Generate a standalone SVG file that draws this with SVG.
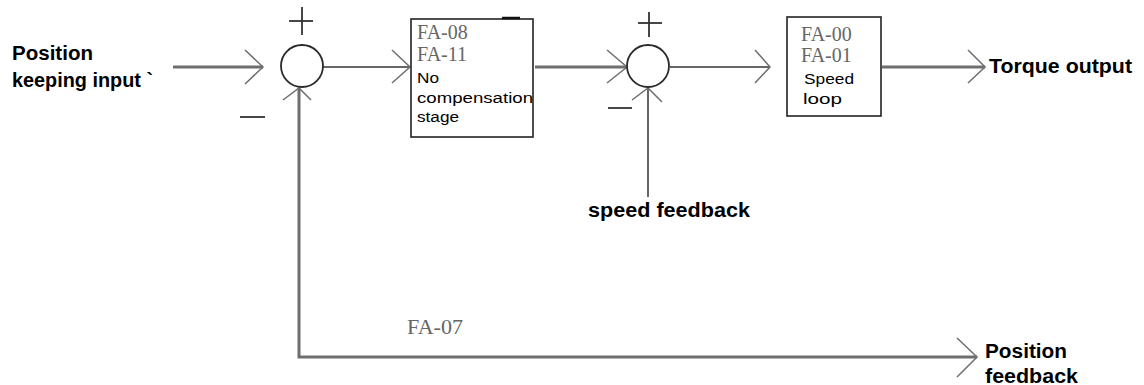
<svg xmlns="http://www.w3.org/2000/svg" width="1144" height="385" viewBox="0 0 1144 385">
<style>
.bg{fill:#ffffff}
.wire{stroke:#6e6e6e;stroke-width:3;fill:none}
.thin{stroke:#333333;stroke-width:1.5;fill:none}
.head{stroke:#6e6e6e;stroke-width:1.5;fill:none}
.sum{stroke:#2a2a2a;stroke-width:1.8;fill:#ffffff}
.box{stroke:#222222;stroke-width:1.6;fill:#ffffff}
.sign{stroke:#333333;stroke-width:1.8;fill:none}
.lbl{font-family:"Liberation Sans",Arial,sans-serif;font-weight:bold;font-size:20px;fill:#000}
.txt{font-family:"Liberation Sans",Arial,sans-serif;font-size:15.5px;fill:#000}
.par{font-family:"Liberation Serif","Times New Roman",serif;font-size:20px;fill:#666}
</style>
<rect class="bg" x="0" y="0" width="1144" height="385"/>
<g id="connectors">
  <line class="wire" x1="173" y1="67" x2="263" y2="67"/>
  <polyline class="head" points="245,50 263,67 245,84"/>
  <line class="thin" x1="323" y1="67" x2="410" y2="67"/>
  <polyline class="head" points="392,50 410,67 392,83"/>
  <line class="wire" x1="535" y1="67" x2="627" y2="67"/>
  <polyline class="head" points="607,50 627,67 607,83"/>
  <line class="thin" x1="648" y1="88" x2="648" y2="197"/>
  <polyline class="head" points="632,100 648,88 662,102"/>
  <line class="thin" x1="670" y1="67" x2="770" y2="67"/>
  <polyline class="head" points="755,50 770,67 755,83"/>
  <line class="wire" x1="882" y1="67" x2="985" y2="67"/>
  <polyline class="head" points="968,50 985,67 968,83"/>
  <polyline class="wire" points="299,88 299,357 977,357"/>
  <polyline class="head" points="283,100 299,88 311,100"/>
  <polyline class="head" points="957,338 977,357 957,377"/>
</g>
<g id="input-label">
  <text class="lbl" x="12" y="60" textLength="81" lengthAdjust="spacingAndGlyphs">Position</text>
  <text class="lbl" x="12" y="87" textLength="141" lengthAdjust="spacingAndGlyphs">keeping input `</text>
</g>
<g id="sum1">
  <circle class="sum" cx="302" cy="66" r="21"/>
  <line class="sign" x1="289" y1="21" x2="313" y2="21"/>
  <line class="sign" x1="302" y1="7" x2="302" y2="35"/>
  <line class="sign" x1="240" y1="117" x2="265" y2="117"/>
</g>
<g id="compensation-box">
  <rect class="box" x="411" y="19" width="122" height="118"/>
  <line x1="502" y1="18" x2="520" y2="18" stroke="#111" stroke-width="2.5"/>
  <text class="par" x="417" y="39">FA-08</text>
  <text class="par" x="417" y="61">FA-11</text>
  <text class="txt" x="417" y="83" textLength="22" lengthAdjust="spacingAndGlyphs">No</text>
  <text class="txt" x="417" y="103" textLength="116" lengthAdjust="spacingAndGlyphs">compensation</text>
  <text class="txt" x="417" y="122" textLength="42" lengthAdjust="spacingAndGlyphs">stage</text>
</g>
<g id="sum2">
  <circle class="sum" cx="648" cy="66" r="21"/>
  <line class="sign" x1="638" y1="23" x2="662" y2="23"/>
  <line class="sign" x1="649" y1="12" x2="649" y2="37"/>
  <line class="sign" x1="608" y1="108" x2="632" y2="108"/>
</g>
<g id="speed-loop-box">
  <rect class="box" x="787" y="17" width="94" height="99"/>
  <text class="par" x="801" y="41">FA-00</text>
  <text class="par" x="801" y="62">FA-01</text>
  <text class="txt" x="804" y="84" textLength="50" lengthAdjust="spacingAndGlyphs">Speed</text>
  <text class="txt" x="803" y="104" textLength="39" lengthAdjust="spacingAndGlyphs">loop</text>
</g>
<g id="torque-output">
  <text class="lbl" x="989" y="73" textLength="143" lengthAdjust="spacingAndGlyphs">Torque output</text>
</g>
<g id="speed-feedback">
  <text class="lbl" x="588" y="217" textLength="162" lengthAdjust="spacingAndGlyphs">speed feedback</text>
</g>
<g id="fa07">
  <text class="par" x="407" y="334" textLength="56" lengthAdjust="spacingAndGlyphs">FA-07</text>
</g>
<g id="position-feedback">
  <text class="lbl" x="985" y="358" textLength="82" lengthAdjust="spacingAndGlyphs">Position</text>
  <text class="lbl" x="985" y="383" textLength="93" lengthAdjust="spacingAndGlyphs">feedback</text>
</g>
</svg>
